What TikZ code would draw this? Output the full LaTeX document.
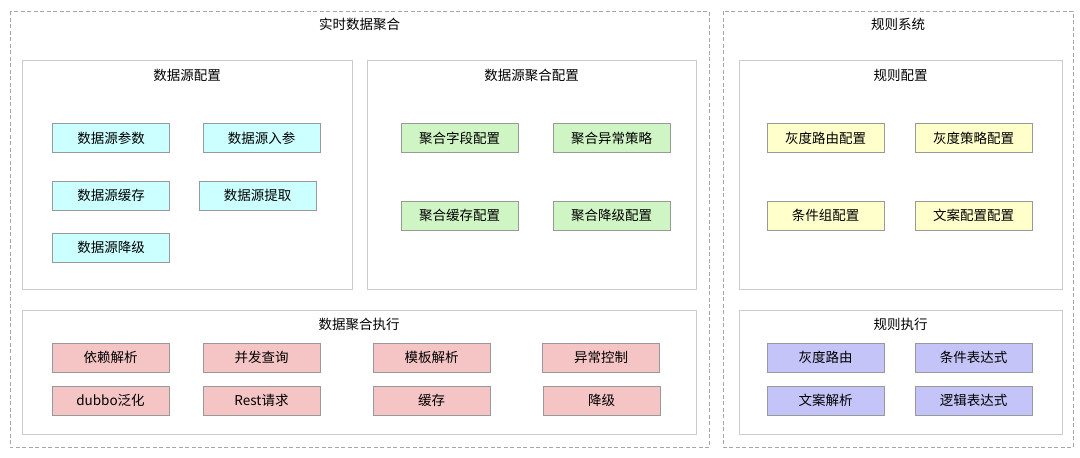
\documentclass[tikz,border=0pt]{standalone}
\usepackage{fontspec}
\setmainfont{Noto Sans CJK SC}
\definecolor{cyanf}{HTML}{CCFFFF}
\definecolor{greenf}{HTML}{D0F5C4}
\definecolor{yellowf}{HTML}{FFFFCC}
\definecolor{pinkf}{HTML}{F5C4C4}
\definecolor{purplef}{HTML}{C4C4F8}
\definecolor{nodeb}{HTML}{999999}
\definecolor{panelb}{HTML}{CCCCCC}
\definecolor{dashb}{HTML}{A6A6A6}
\begin{document}
\begin{tikzpicture}[x=1pt,y=-1pt,
  item/.style={draw=nodeb,line width=1pt,minimum width=117pt,minimum height=29pt,inner sep=0pt,font=\fontsize{13.5}{16}\selectfont},
  cy/.style={item,fill=cyanf},
  gr/.style={item,fill=greenf},
  ye/.style={item,fill=yellowf},
  pk/.style={item,fill=pinkf},
  pu/.style={item,fill=purplef},
  panel/.style={draw=panelb,line width=1pt,fill=white},
  outer/.style={draw=dashb,line width=0.9pt,dash pattern=on 4pt off 2.5pt},
  title/.style={font=\fontsize{13.5}{16}\selectfont,inner sep=0pt}]
\useasboundingbox[fill=white] (0,0) rectangle (1080,458);
% outer dashed groups
\draw[outer] (10,11) rectangle (709,447);
\draw[outer] (723,11) rectangle (1073,447);
\node[title] (tRT) at (359.5,24) {实时数据聚合};
\node[title] (tGZ) at (898,24) {规则系统};
% panels
\draw[panel] (22,60) rectangle (352,289);
\node[title] (tSrc) at (187,75) {数据源配置};
\draw[panel] (367,60) rectangle (696,289);
\node[title] (tAgg) at (531.5,75) {数据源聚合配置};
\draw[panel] (739,60) rectangle (1062,289);
\node[title] (tRule) at (900.5,75) {规则配置};
\draw[panel] (22,310) rectangle (696,434);
\node[title] (tExec) at (359,324) {数据聚合执行};
\draw[panel] (739,310) rectangle (1062,434);
\node[title] (tRExec) at (900.5,324) {规则执行};
% data source config
\node[cy] (s1) at (111,138) {数据源参数};
\node[cy] (s2) at (261.5,138) {数据源入参};
\node[cy] (s3) at (111,195.5) {数据源缓存};
\node[cy] (s4) at (257.5,195.5) {数据源提取};
\node[cy] (s5) at (111,247.5) {数据源降级};
% aggregation config
\node[gr] (a1) at (459.5,138) {聚合字段配置};
\node[gr] (a2) at (611.5,138) {聚合异常策略};
\node[gr] (a3) at (459.5,215.5) {聚合缓存配置};
\node[gr] (a4) at (611.5,215.5) {聚合降级配置};
% rule config
\node[ye] (r1) at (825.5,138) {灰度路由配置};
\node[ye] (r2) at (973.5,138) {灰度策略配置};
\node[ye] (r3) at (825.5,215.5) {条件组配置};
\node[ye] (r4) at (973.5,215.5) {文案配置配置};
% execution
\node[pk] (e1) at (110.5,357.5) {依赖解析};
\node[pk] (e2) at (261.5,357.5) {并发查询};
\node[pk] (e3) at (431.5,357.5) {模板解析};
\node[pk] (e4) at (601,357.5) {异常控制};
\node[pk] (e5) at (110.5,400.5) {dubbo泛化};
\node[pk] (e6) at (261.5,400.5) {Rest请求};
\node[pk] (e7) at (431.5,400.5) {缓存};
\node[pk] (e8) at (601.5,400.5) {降级};
% rule execution
\node[pu] (x1) at (825.5,357.5) {灰度路由};
\node[pu] (x2) at (973.5,357.5) {条件表达式};
\node[pu] (x3) at (825.5,400.5) {文案解析};
\node[pu] (x4) at (973.5,400.5) {逻辑表达式};
\end{tikzpicture}
\end{document}
